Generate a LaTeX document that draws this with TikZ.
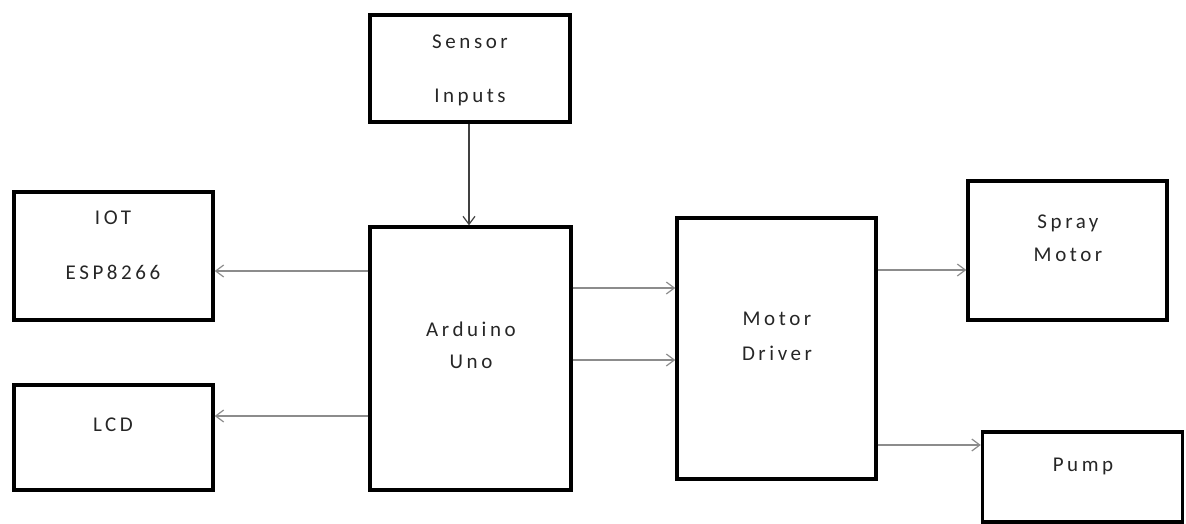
\documentclass[tikz,border=0pt]{standalone}
\usepackage{fontspec}
\newfontfamily\lblfont[LetterSpace=17]{Carlito}
\usetikzlibrary{arrows.meta}
\tikzset{
  blk/.style={draw=black, line width=3.4pt, inner sep=0pt, fill=none},
  txt/.style={font=\lblfont\fontsize{21}{21}\selectfont, text=black!85, inner sep=0pt, anchor=center},
  conn/.style={draw=black!45, line width=1.2pt, -{Straight Barb[length=8pt,width=12pt,line width=1.2pt]}},
  conndark/.style={conn, draw=black!75}
}
\begin{document}
\begin{tikzpicture}[x=1pt,y=-1pt]
\useasboundingbox (0,0) rectangle (1186,523);
% boxes
\node[blk, minimum width=200pt, minimum height=107pt] (sens) at (470,68.5) {};
\node[blk, minimum width=199pt, minimum height=128pt] (iot) at (113.5,256) {};
\node[blk, minimum width=199pt, minimum height=105pt] (lcd) at (113.5,437.5) {};
\node[blk, minimum width=201pt, minimum height=263pt] (ard) at (470.5,358.5) {};
\node[blk, minimum width=199pt, minimum height=261pt] (md) at (776.5,348.5) {};
\node[blk, minimum width=199pt, minimum height=139pt] (spr) at (1067.5,250.5) {};
\node[blk, minimum width=200pt, minimum height=90pt] (pump) at (1082.5,477) {};
% texts
\node[txt] (t1) at (470,42) {Sensor};
\node[txt] (t2) at (470,97) {Inputs};
\node[txt] (t3) at (113,218) {IOT};
\node[txt] (t4) at (113,272) {ESP8266};
\node[txt] (t5) at (113,425) {LCD};
\node[txt] (t6) at (471,329) {Arduino};
\node[txt] (t7) at (471,362) {Uno};
\node[txt] (t8) at (777,319) {Motor};
\node[txt] (t9) at (777,353) {Driver};
\node[txt] (t10) at (1068,223) {Spray};
\node[txt] (t11) at (1068,255) {Motor};
\node[txt] (t12) at (1083,466) {Pump};
% connectors
\draw[conndark] (sens.south -| 469,0) -- (469,0 |- ard.north);
\draw[conn] (ard.west |- 0,271) -- (iot.east |- 0,271);
\draw[conn] (ard.west |- 0,416) -- (lcd.east |- 0,416);
\draw[conn] (ard.east |- 0,288) -- (md.west |- 0,288);
\draw[conn] (ard.east |- 0,360) -- (md.west |- 0,360);
\draw[conn] (md.east |- 0,270) -- (spr.west |- 0,270);
\draw[conn] (md.east |- 0,445) -- (pump.west |- 0,445);
\end{tikzpicture}
\end{document}
